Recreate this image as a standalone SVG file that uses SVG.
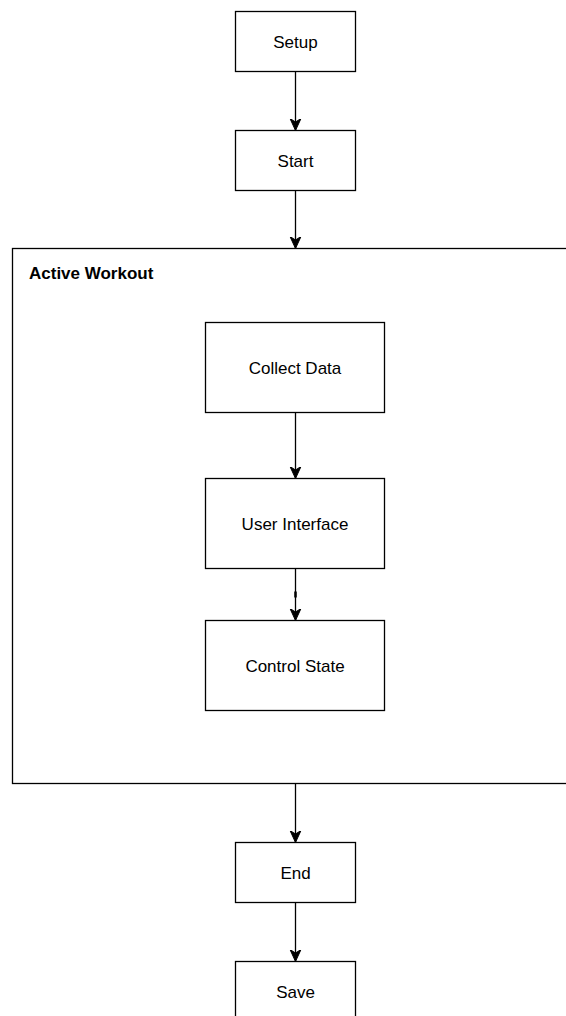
<svg xmlns="http://www.w3.org/2000/svg" width="566" height="1016" viewBox="0 0 566 1016">
  <style>
    .box { fill: #ffffff; stroke: #000000; stroke-width: 1.3; }
    .lbl { font-family: "Liberation Sans", Arial, Helvetica, sans-serif; font-size: 17px; fill: #000000; text-anchor: middle; }
    .title { font-family: "Liberation Sans", Arial, Helvetica, sans-serif; font-size: 17px; font-weight: bold; fill: #000000; }
    .edge { fill: none; stroke: #000000; stroke-width: 1.3; }
  </style>
  <defs>
    <marker id="arrow" markerWidth="14" markerHeight="14" refX="12" refY="7" orient="auto" markerUnits="userSpaceOnUse">
      <path d="M12,7 L0,1.5 L3.5,7 L0,12.5 Z" fill="#000000" stroke="#000000" stroke-width="1"/>
    </marker>
  </defs>
  <rect width="566" height="1016" fill="#ffffff"/>

  <!-- container -->
  <g id="active-workout">
    <rect class="box" x="12.5" y="248.5" width="600" height="535"/>
    <text class="title" x="29" y="279">Active Workout</text>
  </g>

  <g id="setup">
    <rect class="box" x="235.5" y="11.5" width="120" height="60"/>
    <text class="lbl" x="295.5" y="47.5">Setup</text>
  </g>
  <g id="start">
    <rect class="box" x="235.5" y="130.5" width="120" height="60"/>
    <text class="lbl" x="295.5" y="166.5">Start</text>
  </g>
  <g id="collect-data">
    <rect class="box" x="205.5" y="322.5" width="179" height="90"/>
    <text class="lbl" x="295" y="373.5">Collect Data</text>
  </g>
  <g id="user-interface">
    <rect class="box" x="205.5" y="478.5" width="179" height="90"/>
    <text class="lbl" x="295" y="529.5">User Interface</text>
  </g>
  <g id="control-state">
    <rect class="box" x="205.5" y="620.5" width="179" height="90"/>
    <text class="lbl" x="295" y="671.5">Control State</text>
  </g>
  <g id="end">
    <rect class="box" x="235.5" y="842.5" width="120" height="60"/>
    <text class="lbl" x="295.5" y="878.5">End</text>
  </g>
  <g id="save">
    <rect class="box" x="235.5" y="961.5" width="120" height="60"/>
    <text class="lbl" x="295.5" y="997.5">Save</text>
  </g>

  <g id="connectors">
    <path class="edge" d="M295.5,71.5 V130.5" marker-end="url(#arrow)"/>
    <path class="edge" d="M295.5,190.5 V248.5" marker-end="url(#arrow)"/>
    <path class="edge" d="M295.5,412.5 V478.5" marker-end="url(#arrow)"/>
    <path class="edge" d="M295.5,568.5 V620.5" marker-end="url(#arrow)"/>
    <path d="M295.5,591.5 V597.5" stroke="#000000" stroke-width="2.5"/>
    <path class="edge" d="M295.5,783.5 V842.5" marker-end="url(#arrow)"/>
    <path class="edge" d="M295.5,902.5 V961.5" marker-end="url(#arrow)"/>
  </g>
</svg>
